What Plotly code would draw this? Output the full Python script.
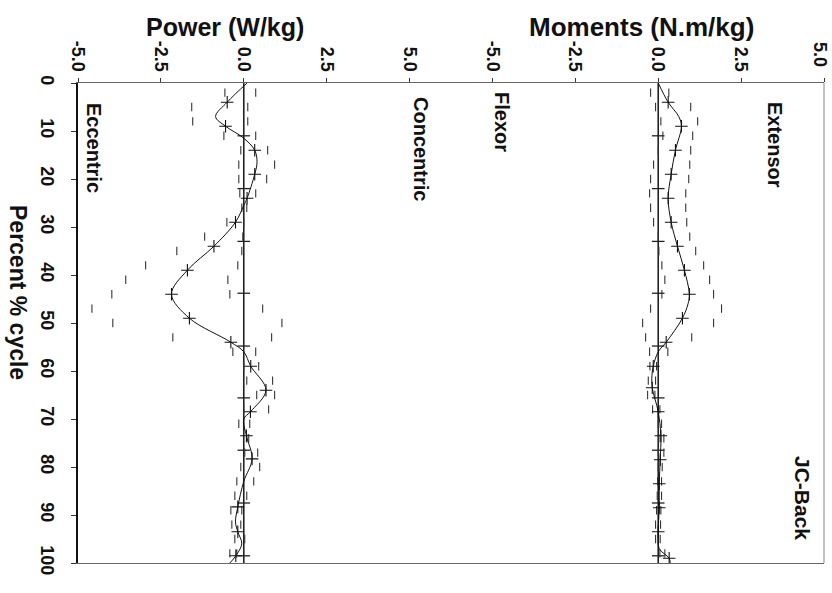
import plotly.graph_objects as go

# ---- data -------------------------------------------------------------
# percent of cycle at which the +/- SD dashes are drawn
pct_sd = [2, 5, 8, 11, 14, 17, 20, 23, 26, 29, 32, 35, 38, 41, 44, 47, 50,
          53, 56, 59, 62, 65, 68, 71, 74, 77, 80, 83, 86, 89, 92, 95, 98]

# Power (W/kg): mean curve
power_pct = [0, 4, 7, 9, 11.5, 14, 16.5, 19, 24, 25.5, 29, 34, 39, 44, 49,
             54, 56, 59, 64, 68.5, 70, 73.5, 78.3, 83, 88.3, 91.5, 93.5, 96,
             98.5, 100]
power_mean = [0.1, -0.5, -0.85, -0.55, 0.0, 0.33, 0.4, 0.33, 0.1, 0.0, -0.25,
              -0.9, -1.7, -2.18, -1.64, -0.39, 0.0, 0.21, 0.67, 0.2, 0.0, 0.08,
              0.25, 0.0, -0.18, -0.25, -0.18, -0.06, -0.24, -0.42]
power_cross_pct = [4, 9, 14, 19, 24, 29, 34, 39, 44, 49, 54, 59, 64, 68.5,
                   73.5, 78.3, 88.3, 93.5, 98.5]
# Power: mean - SD / mean + SD
power_lo = [-0.57, -1.57, -1.54, -0.6, -0.09, -0.15, -0.15, -0.12, -0.06,
            -0.51, -1.18, -2.02, -2.96, -3.56, -3.98, -4.58, -3.95, -2.14,
            -0.33, 0.0, 0.09, 0.39, 0.0, -0.15, 0.09, 0.03, -0.09, -0.21,
            -0.27, -0.39, -0.36, -0.27, -0.42]
power_hi = [0.36, 0.12, 0.12, 0.36, 0.72, 0.93, 0.69, 0.36, 0.09, 0.0, -0.03,
            -0.06, -0.18, -0.48, -0.42, 0.57, 1.15, 0.84, 0.36, 0.45, 0.87,
            0.93, 0.75, 0.18, 0.15, 0.42, 0.48, 0.3, 0.09, -0.06, -0.09,
            0.03, -0.21]

# Moments (N.m/kg): mean curve
moment_pct = [0, 4, 7, 9, 14, 19, 24, 29, 34, 39, 44, 46, 49, 54, 56, 59, 61,
              63.5, 68.5, 73.5, 78.5, 83.5, 88.5, 93.5, 97, 99, 100]
moment_mean = [0.0, 0.3, 0.62, 0.7, 0.52, 0.39, 0.3, 0.39, 0.58, 0.79, 0.94,
               0.9, 0.73, 0.24, 0.0, -0.15, -0.19, -0.18, 0.0, 0.08, 0.06,
               0.03, 0.03, 0.0, 0.03, 0.33, 0.36]
moment_cross_pct = [4, 9, 14, 19, 24, 29, 34, 39, 44, 49, 54, 59, 63.5, 68.5,
                    73.5, 78.5, 83.5, 88.5, 93.5, 99]
# Moments: mean - SD / mean + SD
moment_lo = [-0.23, -0.08, 0.08, 0.14, 0.0, -0.14, -0.23, -0.26, -0.23, -0.14,
             0.0, 0.02, 0.11, 0.2, 0.11, -0.23, -0.47, -0.38, -0.26, -0.25,
             -0.3, -0.32, -0.17, 0.0, 0.02, 0.0, 0.0, -0.02, -0.03, -0.05,
             -0.08, -0.08, 0.05]
moment_hi = [0.32, 0.98, 1.19, 1.04, 0.98, 0.95, 0.92, 0.83, 0.83, 0.86, 0.95,
             1.13, 1.37, 1.55, 1.67, 1.91, 1.67, 1.01, 0.29, -0.05, -0.08,
             -0.1, 0.05, 0.1, 0.17, 0.17, 0.12, 0.1, 0.1, 0.08, 0.07, 0.06,
             0.2]

# short marks drawn along the two zero lines
zero_tick_pct = [11, 22, 33, 43.8, 54.8, 65.6, 76.5, 87.5, 98.5]

axis_ticks = [-5, -2.5, 0, 2.5, 5]
axis_ticktext = ["-5.0", "-2.5", "0.0", "2.5", "5.0"]
cycle_ticks = [0, 10, 20, 30, 40, 50, 60, 70, 80, 90, 100]

# ---- figure -----------------------------------------------------------
W, H = 832, 593
L, R, T, B = 78, 8, 83, 30
FONT = "Liberation Sans"

fig = go.Figure()


def add_panel(xaxis, pct, mean, cross_pct, lo, hi):
    # zero reference line with its small horizontal marks
    fig.add_trace(go.Scatter(
        x=[0, 0], y=[0, 100], mode="lines", xaxis=xaxis,
        line=dict(color="#222", width=1.6), hoverinfo="skip"))
    fig.add_trace(go.Scatter(
        x=[0] * len(zero_tick_pct), y=zero_tick_pct, mode="markers",
        xaxis=xaxis, hoverinfo="skip",
        marker=dict(symbol="line-ew", size=9,
                    line=dict(color="#222", width=1.3))))
    # mean - SD and mean + SD
    for vals in (lo, hi):
        fig.add_trace(go.Scatter(
            x=vals, y=pct_sd, mode="markers", xaxis=xaxis, hoverinfo="skip",
            marker=dict(symbol="line-ns", size=6,
                        line=dict(color="#333", width=1.1))))
    # mean curve
    fig.add_trace(go.Scatter(
        x=mean, y=pct, mode="lines", xaxis=xaxis,
        line=dict(color="#111", width=1, shape="spline", smoothing=1.0)))
    lookup = dict(zip(pct, mean))
    fig.add_trace(go.Scatter(
        x=[lookup[p] for p in cross_pct], y=cross_pct, mode="markers",
        xaxis=xaxis, hoverinfo="skip",
        marker=dict(symbol="cross-thin", size=9,
                    line=dict(color="#111", width=1.1))))


add_panel("x", power_pct, power_mean, power_cross_pct, power_lo, power_hi)
add_panel("x2", moment_pct, moment_mean, moment_cross_pct, moment_lo, moment_hi)

tickfont = dict(family=FONT, size=18, color="#111", weight="bold")

# the last moment label sits on the frame edge; it is placed as an
# annotation just inside the page instead of as an axis tick label
moment_ticktext = axis_ticktext[:-1] + [""]

fig.update_layout(
    width=W, height=H,
    margin=dict(l=L, r=R, t=T, b=B, autoexpand=False),
    paper_bgcolor="white", plot_bgcolor="white",
    showlegend=False,
    xaxis=dict(
        side="top", range=[-5, 17.5], tickvals=axis_ticks,
        ticktext=axis_ticktext, tickangle=90, tickfont=tickfont,
        ticks="outside", ticklen=4, tickcolor="#333",
        ticklabeloverflow="allow", automargin=False,
        showline=True, linecolor="#666", linewidth=1, mirror=True,
        showgrid=False, zeroline=False, fixedrange=True),
    xaxis2=dict(
        side="top", overlaying="x", anchor="y", range=[-17.5, 5],
        tickvals=axis_ticks, ticktext=moment_ticktext, tickangle=90,
        tickfont=tickfont, ticks="outside", ticklen=4, tickcolor="#333",
        ticklabeloverflow="allow", automargin=False,
        showline=False, showgrid=False, zeroline=False, fixedrange=True),
    yaxis=dict(
        range=[100, 0], tickvals=cycle_ticks, tickangle=90,
        tickfont=tickfont, ticks="outside", ticklen=5, tickcolor="#333",
        ticklabelstandoff=8, ticklabeloverflow="allow", automargin=False,
        showline=True, linecolor="#111", linewidth=2,
        showgrid=False, zeroline=False, fixedrange=True),
)

# right-hand frame edge
fig.add_shape(type="line", xref="paper", yref="paper", x0=1, x1=1, y0=0,
              y1=1, line=dict(color="#888", width=1))


def px(xp, yp):
    return (xp - L) / (W - L - R), (H - B - yp) / (H - T - B)


def label(text, xp, yp, size, angle=90):
    x, y = px(xp, yp)
    fig.add_annotation(
        text=text, x=x, y=y, xref="paper", yref="paper", showarrow=False,
        textangle=angle, xanchor="center", yanchor="middle",
        font=dict(family=FONT, size=size, color="#111", weight="bold"))


label("Power (W/kg)", 225, 27, 25, angle=0)
label("Moments (N.m/kg)", 641, 27, 26, angle=0)
label(axis_ticktext[-1], 820, 54, 18)
label("Percent % cycle", 18, 292, 23)
label("Eccentric", 94, 148, 20)
label("Concentric", 421, 149, 20)
label("Flexor", 502, 122, 20)
label("Extensor", 775, 145, 20)
label("JC-Back", 803, 498, 21)

fig.write_html("out.html")
